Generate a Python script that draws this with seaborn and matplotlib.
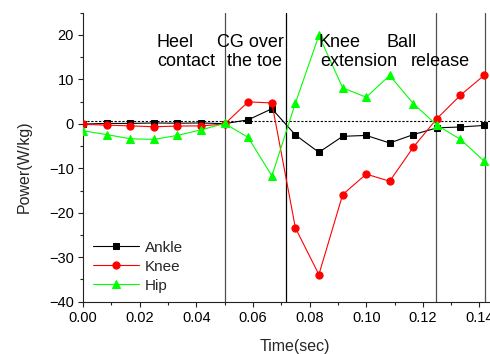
import matplotlib
matplotlib.use("Agg")
import matplotlib.pyplot as plt
import seaborn as sns
import pandas as pd
from matplotlib.ticker import MultipleLocator

time_sec = [0.0, 0.0083, 0.0167, 0.025, 0.0333, 0.0417, 0.05, 0.0583, 0.0667,
            0.075, 0.0833, 0.0917, 0.1, 0.1083, 0.1167, 0.125, 0.1333, 0.1417]
ankle = [-0.05, 0.1, 0.1, 0.2, 0.15, 0.2, 0.05, 0.9, 3.4, -2.5, -6.4, -2.8,
         -2.6, -4.3, -2.4, -0.9, -0.7, -0.35]
knee = [-0.1, -0.3, -0.45, -0.65, -0.5, -0.45, -0.05, 4.95, 4.7, -23.4, -33.9,
        -15.9, -11.3, -12.9, -5.2, 1.2, 6.45, 10.95]
hip = [-1.55, -2.4, -3.35, -3.5, -2.6, -1.35, 0.1, -3.05, -11.7, 4.65, 19.9,
       8.1, 6.0, 10.9, 4.5, -0.3, -3.5, -8.4]
series_names = ["Ankle", "Knee", "Hip"]
event_times = [0.05, 0.0717, 0.1245, 0.142]
event_labels = [("Heel", 0.0260, 17.3), ("contact", 0.0261, 13.0),
                ("CG over", 0.0472, 17.3), ("the toe", 0.0507, 13.0),
                ("Knee", 0.0830, 17.3), ("extension", 0.0839, 13.0),
                ("Ball", 0.1070, 17.3), ("release", 0.1157, 13.0)]

sns.set_style("ticks")
plt.rcParams["font.family"] = ["Liberation Sans", "DejaVu Sans"]

df = pd.DataFrame({"Time": time_sec, "Ankle": ankle, "Knee": knee, "Hip": hip})

fig = plt.figure(figsize=(4.9, 3.54), dpi=100)
ax = fig.add_axes([0.1694, 0.1477, 0.8669, 0.8164])

styles = {"Ankle": ("black", "s", 4.3), "Knee": ("#ff0000", "o", 5.2), "Hip": ("#00ff00", "^", 6.0)}
for name in series_names:
    c, m, ms = styles[name]
    sns.lineplot(data=df, x="Time", y=name, ax=ax, color=c, marker=m, markersize=ms,
                 markeredgecolor=c, linewidth=0.8, label=name, zorder=3)

ax.axhline(0.55, color="black", linewidth=0.8, linestyle=(0, (2, 1.5)), zorder=2)
vcolors = ["#505050", "black", "#505050", "#505050"]
for t, c in zip(event_times, vcolors):
    ax.axvline(t, color=c, linewidth=0.9, zorder=2)

for txt, x, y in event_labels:
    ax.text(x, y, txt, fontsize=13, ha="left", va="baseline", color="black")

ax.set_xlim(0, 0.15)
ax.set_ylim(-40, 25)
ax.xaxis.set_major_locator(MultipleLocator(0.02))
ax.xaxis.set_minor_locator(MultipleLocator(0.01))
ax.yaxis.set_major_locator(MultipleLocator(10))
ax.yaxis.set_minor_locator(MultipleLocator(5))
ax.xaxis.set_major_formatter(matplotlib.ticker.FormatStrFormatter("%.2f"))
ax.tick_params(which="major", direction="out", length=3.6, width=0.8, labelsize=10.5, pad=3, colors="#222222")
ax.tick_params(which="minor", direction="out", length=2.2, width=0.8, colors="#222222")
ax.tick_params(labelcolor="black")
for s in ["top", "right"]:
    ax.spines[s].set_visible(False)
for s in ["left", "bottom"]:
    ax.spines[s].set_linewidth(0.8)
    ax.spines[s].set_color("#222222")

ax.set_xlabel("Time(sec)", fontsize=11.5)
ax.set_ylabel("Power(W/kg)", fontsize=11.5)
ax.xaxis.set_label_coords(0.499, -0.13)
ax.yaxis.set_label_coords(-0.12, 0.468)

leg = ax.legend(loc="lower left", frameon=False, fontsize=11, handlelength=3.0,
                handletextpad=0.35, labelspacing=0.33, borderaxespad=0.0,
                bbox_to_anchor=(0.01, 0.01))

fig.savefig("out.png", dpi=100)
